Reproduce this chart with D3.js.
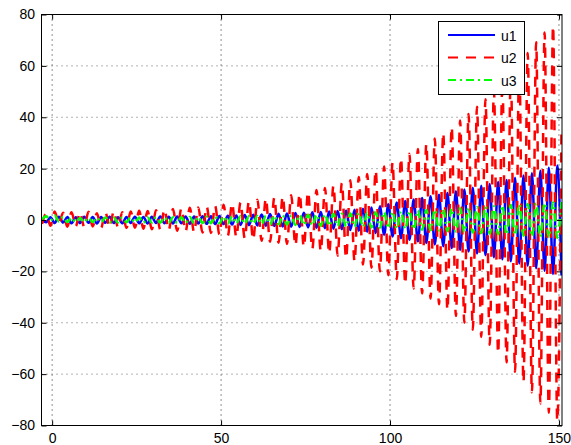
<!DOCTYPE html>
<html>
<head>
<meta charset="utf-8">
<script src="https://cdn.jsdelivr.net/npm/d3@7"></script>
<style>
  body { margin: 0; background: #fff; }
  text { font-family: "Liberation Sans", Arial, Helvetica, sans-serif; }
</style>
</head>
<body>
<svg id="chart" width="571" height="445"></svg>
<script>
// Series names and tick labels
const seriesNames = ["u1", "u2", "u3"];
const xTicks = [0, 50, 100, 150];
const yTicks = [-80, -60, -40, -20, 0, 20, 40, 60, 80];

// Sampling grid: one value per half-oscillation, starting at the history interval t = -3
const tStart = -3;
const tStep = 1.25;

// Successive peak / trough values of each response
const u1 = [
  0.0, -0.9, 1.1, -1.2, 1.3, -1.0, 1.2, -1.3, 1.1, -1.2,
  1.3, -1.1, 1.2, -1.4, 1.2, -1.1, 1.3, -1.2, 1.1, -1.3,
  1.2, -1.2, 1.3, -1.3, 1.2, -1.4, 1.3, -1.2, 1.4, -1.3,
  1.3, -1.4, 1.4, -1.3, 1.4, -1.5, 1.4, -1.4, 1.5, -1.5,
  1.5, -1.6, 1.6, -1.6, 1.7, -1.8, 1.8, -1.9, 1.9, -2.0,
  2.0, -2.1, 2.1, -2.2, 2.3, -2.3, 2.4, -2.5, 2.5, -2.6,
  2.7, -2.7, 2.8, -2.9, 3.0, -3.0, 3.1, -3.2, 3.3, -3.4,
  3.5, -3.6, 3.7, -3.9, 4.0, -4.2, 4.4, -4.6, 4.9, -5.1,
  5.4, -5.7, 6.1, -6.4, 6.8, -7.1, 7.4, -7.7, 8.0, -8.3,
  8.6, -8.9, 9.2, -9.5, 9.8, -10.2, 10.5, -10.9, 11.2, -11.6,
  11.9, -12.3, 12.6, -13.0, 13.3, -13.7, 14.0, -14.5, 14.8, -15.3,
  15.6, -16.1, 16.4, -16.9, 17.3, -17.8, 18.2, -18.8, 19.2, -19.8,
  20.3, -21.0, 21.2, -21.6
];
const u2 = [
  -1.5, 2.4, -2.2, 3.3, -1.3, 2.8, -2.6, 3.0, -2.4, 2.9,
  -2.7, 3.2, -2.5, 2.6, -3.0, 3.1, -2.8, 3.4, -2.9, 3.0,
  -3.1, 3.3, -3.0, 3.6, -3.4, 3.5, -3.6, 3.8, -3.7, 4.1,
  -3.9, 4.3, -4.2, 4.5, -4.4, 4.8, -4.7, 4.9, -4.9, 5.2,
  -5.1, 5.5, -5.6, 5.9, -6.1, 6.4, -6.6, 6.8, -7.1, 7.3,
  -7.6, 7.9, -8.1, 8.3, -8.5, 8.7, -8.9, 9.1, -9.3, 9.6,
  -9.9, 10.2, -10.5, 10.9, -11.3, 11.7, -12.1, 12.5, -13.0, 13.4,
  -13.9, 14.4, -14.9, 15.5, -16.1, 16.7, -17.3, 17.9, -18.6, 19.3,
  -20.0, 20.8, -21.5, 22.3, -23.1, 24.0, -24.9, 25.8, -26.7, 27.6,
  -28.6, 29.6, -30.6, 31.7, -32.8, 33.9, -35.0, 36.2, -37.4, 38.7,
  -40.0, 41.3, -42.7, 44.1, -45.5, 47.0, -48.6, 50.2, -51.9, 53.6,
  -55.4, 57.2, -59.1, 61.0, -63.0, 65.0, -67.1, 69.2, -71.4, 73.0,
  -75.0, 75.5, -78.0, 36.0
];
const u3 = [
  0.3, 1.5, -0.2, 1.8, -0.6, 1.2, -0.8, 0.9, -0.9, 0.8,
  -0.9, 0.9, -0.8, 0.9, -0.9, 1.0, -0.9, 0.9, -1.0, 1.0,
  -0.9, 1.0, -1.0, 1.0, -1.1, 1.0, -1.0, 1.1, -1.1, 1.1,
  -1.1, 1.1, -1.2, 1.1, -1.2, 1.2, -1.2, 1.2, -1.2, 1.3,
  -1.3, 1.3, -1.3, 1.4, -1.4, 1.4, -1.4, 1.5, -1.5, 1.5,
  -1.5, 1.6, -1.6, 1.6, -1.7, 1.7, -1.7, 1.8, -1.8, 1.8,
  -1.9, 1.9, -2.0, 2.0, -2.1, 2.1, -2.2, 2.2, -2.3, 2.3,
  -2.4, 2.4, -2.5, 2.5, -2.6, 2.7, -2.7, 2.8, -2.9, 2.9,
  -3.0, 3.1, -3.2, 3.2, -3.3, 3.4, -3.5, 3.5, -3.6, 3.7,
  -3.8, 3.9, -4.0, 4.0, -4.1, 4.2, -4.3, 4.4, -4.5, 4.6,
  -4.7, 4.8, -4.9, 5.0, -5.1, 5.2, -5.3, 5.4, -5.5, 5.6,
  -5.7, 5.8, -5.9, 6.0, -6.1, 6.2, -6.3, 6.4, -6.5, 6.6,
  -6.7, 6.8, -6.9, 7.0
];

const seriesValues = [u1, u2, u3];
// Line styles: solid blue, dashed red, dash-dot green
const lineStyles = [
  { color: "#0000ff", dash: null },
  { color: "#ff0000", dash: "10,8" },
  { color: "#00ff00", dash: "8,4,2,4" }
];

const svg = d3.select("#chart");
const plotLeft = 41.5, plotRight = 562, plotTop = 14.5, plotBottom = 425.5;

const x = d3.scaleLinear().domain([-3.15, 150.9]).range([plotLeft, plotRight]);
const y = d3.scaleLinear().domain([-80, 80]).range([plotBottom, plotTop]);

// Dotted grid
const grid = svg.append("g").attr("stroke-width", 1).attr("stroke-dasharray", "1,4");
grid.selectAll("line.gx").data(xTicks).join("line")
  .attr("class", "gx")
  .attr("stroke", "#222")
  .attr("x1", d => x(d)).attr("x2", d => x(d))
  .attr("y1", plotTop).attr("y2", plotBottom);
grid.selectAll("line.gy").data(yTicks).join("line")
  .attr("class", "gy")
  .attr("stroke", "#666")
  .attr("x1", plotLeft).attr("x2", plotRight)
  .attr("y1", d => y(d)).attr("y2", d => y(d));

// Curves
svg.append("clipPath").attr("id", "plotClip").append("rect")
  .attr("x", plotLeft).attr("y", plotTop)
  .attr("width", plotRight - plotLeft).attr("height", plotBottom - plotTop);

const line = d3.line()
  .x((d, i) => x(tStart + i * tStep))
  .y(d => y(d))
  .curve(d3.curveMonotoneX);

const curves = svg.append("g").attr("clip-path", "url(#plotClip)");
seriesValues.forEach((vals, i) => {
  curves.append("path")
    .datum(vals)
    .attr("fill", "none")
    .attr("stroke", lineStyles[i].color)
    .attr("stroke-width", 2.5)
    .attr("stroke-dasharray", lineStyles[i].dash)
    .attr("d", line);
});

// Axes with inward ticks on all four sides
function styleAxis(g) {
  g.select(".domain").remove();
  g.selectAll(".tick line").attr("stroke", "#000");
  g.selectAll(".tick text").attr("fill", "#000").style("font-size", "14px")
    .style("font-family", '"Liberation Sans", Arial, Helvetica, sans-serif');
}
svg.append("g").attr("transform", `translate(${plotLeft},0)`)
  .call(d3.axisLeft(y).tickValues(yTicks).tickSize(-5).tickPadding(6.5))
  .call(styleAxis);
svg.append("g").attr("transform", `translate(0,${plotBottom})`)
  .call(d3.axisBottom(x).tickValues(xTicks).tickSize(-5).tickPadding(7.5))
  .call(styleAxis);
svg.append("g").attr("transform", `translate(${plotRight},0)`)
  .call(d3.axisRight(y).tickValues(yTicks).tickSize(-5).tickFormat(""))
  .call(styleAxis);
svg.append("g").attr("transform", `translate(0,${plotTop})`)
  .call(d3.axisTop(x).tickValues(xTicks).tickSize(-5).tickFormat(""))
  .call(styleAxis);

// Box
svg.append("rect").attr("x", plotLeft).attr("y", plotTop)
  .attr("width", plotRight - plotLeft).attr("height", plotBottom - plotTop)
  .attr("fill", "none").attr("stroke", "#000").attr("stroke-width", 1);

// Legend
const legend = svg.append("g");
legend.append("rect").attr("x", 438.5).attr("y", 21.5).attr("width", 86).attr("height", 73)
  .attr("fill", "#fff").attr("stroke", "#000").attr("stroke-width", 1);
const legendRows = [35, 57.5, 80];
seriesNames.forEach((name, i) => {
  legend.append("line")
    .attr("x1", 448).attr("x2", 495)
    .attr("y1", legendRows[i]).attr("y2", legendRows[i])
    .attr("stroke", lineStyles[i].color).attr("stroke-width", 2)
    .attr("stroke-dasharray", lineStyles[i].dash);
  legend.append("text")
    .attr("x", 501).attr("y", legendRows[i] + 5.5)
    .style("font-size", "14px")
    .text(name);
});
</script>
</body>
</html>
